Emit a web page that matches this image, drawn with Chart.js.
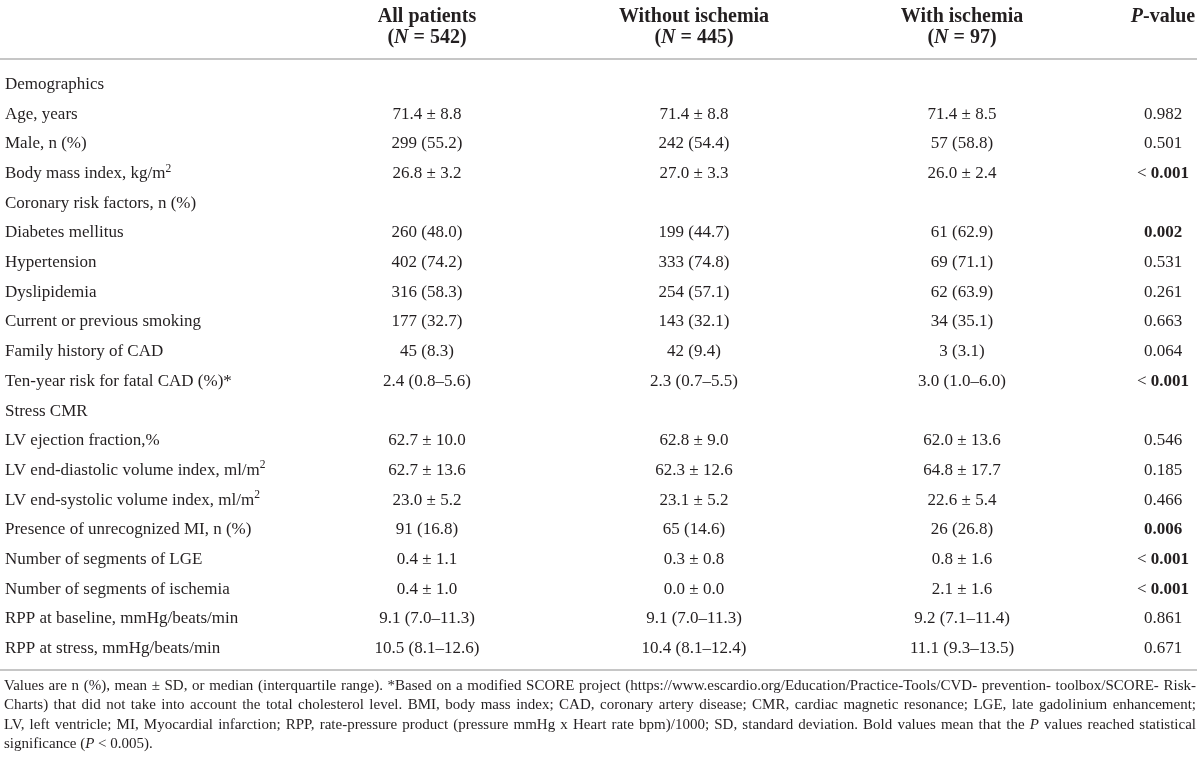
<!DOCTYPE html>
<html lang="en">
<head>
    <meta charset="UTF-8">
    <title>Baseline characteristics - ischemia</title>
    <script src="https://cdn.jsdelivr.net/npm/chart.js"></script>
    <style>
        html, body { margin: 0; padding: 0; background: #fff; }
    </style>
</head>
<body>
    <canvas id="tableChart" width="1200" height="764"></canvas>

    <script>
        // table content
        const rowLabels = [
            "Demographics", "Age, years", "Male, n (%)", "Body mass index, kg/m²",
            "Coronary risk factors, n (%)", "Diabetes mellitus", "Hypertension", "Dyslipidemia",
            "Current or previous smoking", "Family history of CAD", "Ten-year risk for fatal CAD (%)*",
            "Stress CMR", "LV ejection fraction,%", "LV end-diastolic volume index, ml/m²",
            "LV end-systolic volume index, ml/m²", "Presence of unrecognized MI, n (%)",
            "Number of segments of LGE", "Number of segments of ischemia",
            "RPP at baseline, mmHg/beats/min", "RPP at stress, mmHg/beats/min"
        ];
        const allPatients = [null, "71.4 ± 8.8", "299 (55.2)", "26.8 ± 3.2", null, "260 (48.0)", "402 (74.2)", "316 (58.3)", "177 (32.7)", "45 (8.3)", "2.4 (0.8–5.6)", null, "62.7 ± 10.0", "62.7 ± 13.6", "23.0 ± 5.2", "91 (16.8)", "0.4 ± 1.1", "0.4 ± 1.0", "9.1 (7.0–11.3)", "10.5 (8.1–12.6)"];
        const withoutIschemia = [null, "71.4 ± 8.8", "242 (54.4)", "27.0 ± 3.3", null, "199 (44.7)", "333 (74.8)", "254 (57.1)", "143 (32.1)", "42 (9.4)", "2.3 (0.7–5.5)", null, "62.8 ± 9.0", "62.3 ± 12.6", "23.1 ± 5.2", "65 (14.6)", "0.3 ± 0.8", "0.0 ± 0.0", "9.1 (7.0–11.3)", "10.4 (8.1–12.4)"];
        const withIschemia = [null, "71.4 ± 8.5", "57 (58.8)", "26.0 ± 2.4", null, "61 (62.9)", "69 (71.1)", "62 (63.9)", "34 (35.1)", "3 (3.1)", "3.0 (1.0–6.0)", null, "62.0 ± 13.6", "64.8 ± 17.7", "22.6 ± 5.4", "26 (26.8)", "0.8 ± 1.6", "2.1 ± 1.6", "9.2 (7.1–11.4)", "11.1 (9.3–13.5)"];
        const pValues = [null, "0.982", "0.501", "< 0.001", null, "0.002", "0.531", "0.261", "0.663", "0.064", "< 0.001", null, "0.546", "0.185", "0.466", "0.006", "< 0.001", "< 0.001", "0.861", "0.671"];
        const pSignificant = [false, false, false, true, false, true, false, false, false, false, true, false, false, false, false, true, true, true, false, false];
        const groupNames = ["All patients", "Without ischemia", "With ischemia"];
        const groupSizes = [542, 445, 97];
        const pHeader = "_P_-value";
        // _x_ = italic, \u200b = break point used for justification
        const footnoteLines = [
            "Values are n (%), mean ± SD, or median (interquartile range). *Based on a modified SCORE project (https://www.escardio.org/Education/Practice-Tools/CVD-\u200bprevention-\u200btoolbox/SCORE-\u200bRisk-",
            "Charts) that did not take into account the total cholesterol level. BMI, body mass index; CAD, coronary artery disease; CMR, cardiac magnetic resonance; LGE, late gadolinium enhancement;",
            "LV, left ventricle; MI, Myocardial infarction; RPP, rate-pressure product (pressure mmHg x Heart rate bpm)/1000; SD, standard deviation. Bold values mean that the _P_ values reached statistical",
            "significance (_P_ < 0.005)."
        ];

        const INK = "#231f20";
        const FAMILY = '"Liberation Serif", "DejaVu Serif", serif';

        function fontOf(run, size) {
            return (run.italic ? "italic " : "") + (run.bold ? "bold " : "") + size + "px " + FAMILY;
        }

        // split "_x_" into italic runs and "²" into superscripts
        function parseRuns(str, bold) {
            const runs = [];
            str.split("_").forEach((part, i) => {
                part.split(/(²)/).forEach(p => {
                    if (!p) return;
                    if (p === "²") runs.push({ t: "2", sup: true, bold: bold, italic: i % 2 === 1 });
                    else runs.push({ t: p, bold: bold, italic: i % 2 === 1 });
                });
            });
            return runs;
        }

        function runsWidth(ctx, runs, size) {
            let w = 0;
            runs.forEach(r => {
                ctx.font = fontOf(r, r.sup ? size * 0.68 : size);
                w += ctx.measureText(r.t).width;
            });
            return w;
        }

        function drawRuns(ctx, runs, x, yb, size, align) {
            const w = runsWidth(ctx, runs, size);
            if (align === "center") x -= w / 2;
            if (align === "right") x -= w;
            ctx.textAlign = "left";
            ctx.textBaseline = "alphabetic";
            runs.forEach(r => {
                const s = r.sup ? size * 0.68 : size;
                ctx.font = fontOf(r, s);
                ctx.fillText(r.t, x, r.sup ? yb - size * 0.38 : yb);
                x += ctx.measureText(r.t).width;
            });
        }

        function drawLine(ctx, x0, x1, y) {
            ctx.save();
            ctx.strokeStyle = "#c6c6c6";
            ctx.lineWidth = 2;
            ctx.beginPath();
            ctx.moveTo(x0, y);
            ctx.lineTo(x1, y);
            ctx.stroke();
            ctx.restore();
        }

        // one footnote line, optionally stretched to fill x0..x1
        function drawParagraphLine(ctx, text, x0, x1, yb, size, justify) {
            const words = text.split(/ |\u200b/);
            const joins = [];
            for (const ch of text) { if (ch === " " || ch === "\u200b") joins.push(ch); }
            const parsed = words.map(w => parseRuns(w, false));
            const widths = parsed.map(r => runsWidth(ctx, r, size));
            ctx.font = fontOf({}, size);
            const space = ctx.measureText(" ").width;
            const total = widths.reduce((a, b) => a + b, 0);
            let gap = space;
            if (justify) gap = (x1 - x0 - total) / joins.length;
            let x = x0;
            parsed.forEach((runs, i) => {
                drawRuns(ctx, runs, x, yb, size, "left");
                x += widths[i];
                if (i < joins.length) x += (joins[i] === " " || justify) ? gap : 0;
            });
        }

        const tablePlugin = {
            id: "tableText",
            afterDraw(chart, args, opts) {
                const ctx = chart.ctx;
                const yScale = chart.scales.y;
                const W = chart.width;
                const cols = opts.columnCenters;
                const bodySize = opts.bodySize;

                ctx.save();
                ctx.fillStyle = INK;

                // header
                groupNames.forEach((name, c) => {
                    drawRuns(ctx, parseRuns(name, true), cols[c], opts.headerBaselines[0], opts.headerSize, "center");
                    drawRuns(ctx, parseRuns("(_N_ = " + groupSizes[c] + ")", true), cols[c], opts.headerBaselines[1], opts.headerSize, "center");
                });
                drawRuns(ctx, parseRuns(pHeader, true), cols[3], opts.headerBaselines[0], opts.headerSize, "center");

                const firstY = yScale.getPixelForValue(0);
                const lastY = yScale.getPixelForValue(rowLabels.length - 1);
                drawLine(ctx, 0, W - 3, firstY - 30);
                drawLine(ctx, 0, W - 3, lastY + 17);

                // body rows
                rowLabels.forEach((label, i) => {
                    const yb = yScale.getPixelForValue(i);
                    drawRuns(ctx, parseRuns(label, false), opts.labelX, yb, bodySize, "left");
                    [allPatients, withoutIschemia, withIschemia].forEach((arr, c) => {
                        if (arr[i]) drawRuns(ctx, parseRuns(arr[i], false), cols[c], yb, bodySize, "center");
                    });
                    const p = pValues[i];
                    if (p) {
                        let runs;
                        if (p.startsWith("<")) runs = [{ t: "< " }, { t: p.slice(2), bold: pSignificant[i] }];
                        else runs = [{ t: p, bold: pSignificant[i] }];
                        drawRuns(ctx, runs, cols[3], yb, bodySize, "center");
                    }
                });

                // footnote
                footnoteLines.forEach((line, i) => {
                    const yb = lastY + 37 + i * opts.noteStep;
                    drawParagraphLine(ctx, line, opts.labelX - 1, W - 4, yb, opts.noteSize, i < footnoteLines.length - 1);
                });
                ctx.restore();
            }
        };

        const ctx = document.getElementById("tableChart").getContext("2d");
        const tableChart = new Chart(ctx, {
            type: "scatter",
            data: { datasets: [] },
            options: {
                responsive: false,
                animation: false,
                layout: { padding: { top: 89, bottom: 111, left: 0, right: 0 } },
                scales: {
                    x: { type: "linear", min: 0, max: 1, display: false },
                    y: { type: "category", labels: rowLabels, offset: false, display: false }
                },
                plugins: {
                    legend: { display: false },
                    tooltip: { enabled: false },
                    tableText: {
                        columnCenters: [427, 694, 962, 1163],
                        headerBaselines: [22, 43],
                        headerSize: 20,
                        bodySize: 17,
                        noteSize: 15,
                        noteStep: 19.4,
                        labelX: 5
                    }
                }
            },
            plugins: [tablePlugin]
        });
    </script>
</body>
</html>
